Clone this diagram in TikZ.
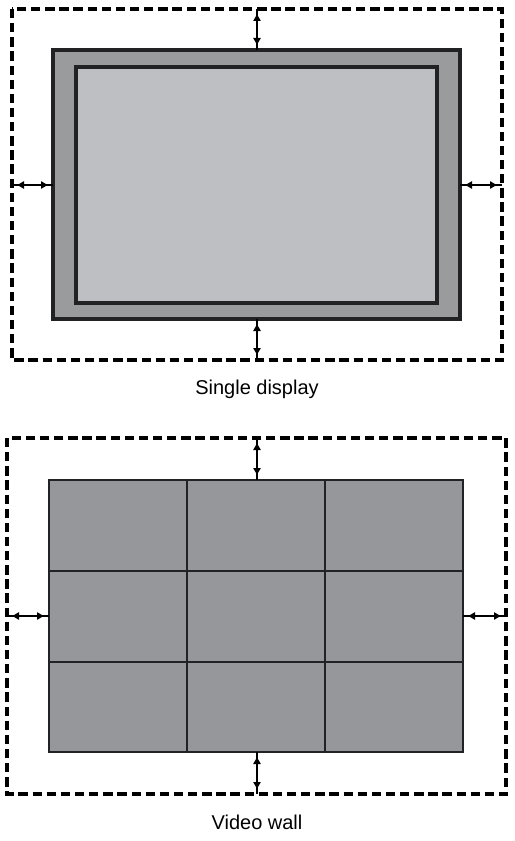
\documentclass[tikz,border=0pt]{standalone}
\usepackage{fontspec}
\setmainfont{Liberation Sans}
\usetikzlibrary{arrows.meta}
\definecolor{bezel}{RGB}{154,155,157}
\definecolor{screen}{RGB}{190,191,195}
\definecolor{tile}{RGB}{150,151,154}
\definecolor{edge}{RGB}{34,34,36}
\tikzset{
  clearance/.style={dash pattern={on 7pt off 3.6pt}, line width=2.3pt},
  gap/.style={line width=1.1pt, {Triangle[length=5pt,width=5.5pt]}-{Triangle[length=5pt,width=5.5pt]}, shorten <=4pt, shorten >=4pt},
  caption/.style={font=\fontsize{15}{18}\selectfont}
}
\begin{document}
\begin{tikzpicture}[x=0.75pt,y=0.75pt,yscale=-1,xscale=1]
\useasboundingbox (0,0) rectangle (514,841);

%Single display
%Shape: Rectangle [clearance]
\draw [clearance] (12,9) rectangle (502,360);
%Shape: Rectangle [bezel]
\draw [fill=bezel, draw=edge, line width=2.4pt] (53,50) rectangle (460,319);
%Shape: Rectangle [screen]
\draw [fill=screen, draw=edge, line width=2.4pt] (76,67) rectangle (437,303);
\coordinate (sdTopOut) at (257,9);
\coordinate (sdTopIn) at (257,50);
\coordinate (sdBotIn) at (257,319);
\coordinate (sdBotOut) at (257,360);
\coordinate (sdLeftOut) at (12,185);
\coordinate (sdLeftIn) at (53,185);
\coordinate (sdRightIn) at (460,185);
\coordinate (sdRightOut) at (502,185);
%Straight Lines
\draw [line width=1.1pt] (sdTopOut) -- (sdTopIn);
\draw [gap] (sdTopOut) -- (sdTopIn);
\draw [line width=1.1pt] (sdBotIn) -- (sdBotOut);
\draw [gap] (sdBotIn) -- (sdBotOut);
\draw [line width=1.1pt] (sdLeftOut) -- (sdLeftIn);
\draw [gap] (sdLeftOut) -- (sdLeftIn);
\draw [line width=1.1pt] (sdRightIn) -- (sdRightOut);
\draw [gap] (sdRightIn) -- (sdRightOut);
% Text Node
\node [caption] (sdLabel) at (257,389) {Single display};

%Video wall
%Shape: Rectangle [clearance]
\draw [clearance] (7,438) rectangle (506,794);
%Shape: Grid of tiles
\draw [fill=tile, draw=edge, line width=1.8pt] (49,480) rectangle (463,752);
\foreach \gx in {187,325}
  \draw [edge, line width=1.5pt] (\gx,480) -- (\gx,752);
\foreach \gy in {571,662}
  \draw [edge, line width=1.5pt] (49,\gy) -- (463,\gy);
\coordinate (vwTopOut) at (257,438);
\coordinate (vwTopIn) at (257,480);
\coordinate (vwBotIn) at (257,752);
\coordinate (vwBotOut) at (257,794);
\coordinate (vwLeftOut) at (7,616);
\coordinate (vwLeftIn) at (49,616);
\coordinate (vwRightIn) at (463,616);
\coordinate (vwRightOut) at (506,616);
%Straight Lines
\draw [line width=1.1pt] (vwTopOut) -- (vwTopIn);
\draw [gap] (vwTopOut) -- (vwTopIn);
\draw [line width=1.1pt] (vwBotIn) -- (vwBotOut);
\draw [gap] (vwBotIn) -- (vwBotOut);
\draw [line width=1.1pt] (vwLeftOut) -- (vwLeftIn);
\draw [gap] (vwLeftOut) -- (vwLeftIn);
\draw [line width=1.1pt] (vwRightIn) -- (vwRightOut);
\draw [gap] (vwRightIn) -- (vwRightOut);
% Text Node
\node [caption] (vwLabel) at (257,822) {Video wall};

\end{tikzpicture}
\end{document}
